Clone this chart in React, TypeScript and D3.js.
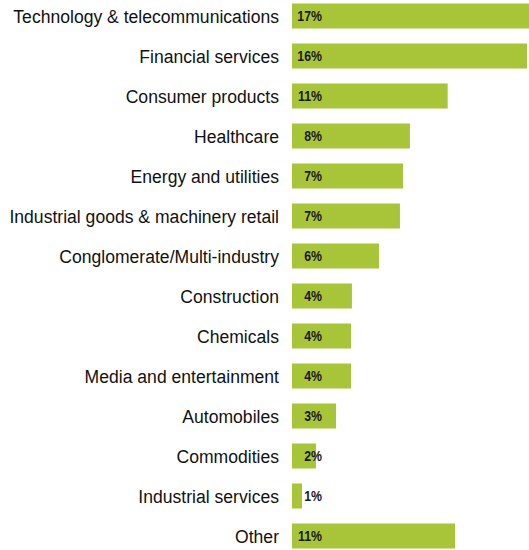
import React from "react";
import * as d3 from "d3";

const categories = [
  "Technology & telecommunications",
  "Financial services",
  "Consumer products",
  "Healthcare",
  "Energy and utilities",
  "Industrial goods & machinery retail",
  "Conglomerate/Multi-industry ",
  "Construction",
  "Chemicals",
  "Media and entertainment",
  "Automobiles",
  "Commodities",
  "Industrial services",
  "Other",
];
const values = [17.2, 16.0, 10.6, 8.03, 7.56, 7.35, 5.92, 4.08, 4.02, 4.02, 3.0, 1.63, 0.68, 11.1];
const valueLabels = ["17%", "16%", "11%", "8%", "7%", "7%", "6%", "4%", "4%", "4%", "3%", "2%", "1%", "11%"];

const W = 529;
const H = 550;
const FONT = "'Liberation Sans Narrow', 'Arial Narrow', 'Liberation Sans', Arial, sans-serif";

export default function App() {
  const x = d3.scaleLinear().domain([0, 16]).range([292, 527]);
  const y = d3.scaleBand<string>().domain(categories).range([-4, 556]).paddingInner(0.375).paddingOuter(0.1875);
  return (
    <div style={{ position: "absolute", left: 0, top: 0 }}>
      <svg width={W} height={H} style={{ display: "block" }}>
        {categories.map((c, i) => {
          const y0 = y(c)!;
          const bh = y.bandwidth();
          const cy = y0 + bh / 2;
          return (
            <g key={c}>
              <rect x={x(0)} y={y0} width={x(values[i]) - x(0)} height={bh} fill="#a8c539" />
              <text
                transform={`translate(279,${cy + 6.5}) scale(0.925,1)`}
                textAnchor="end"
                fontFamily={FONT}
                fontSize={19}
                fill="#111"
              >
                {c}
              </text>
              <text
                transform={`translate(322,${cy + 5.2}) scale(0.88,1)`}
                textAnchor="end"
                fontFamily={FONT}
                fontSize={14}
                fontWeight="bold"
                fill="#1a1a1a"
              >
                {valueLabels[i]}
              </text>
            </g>
          );
        })}
      </svg>
    </div>
  );
}
